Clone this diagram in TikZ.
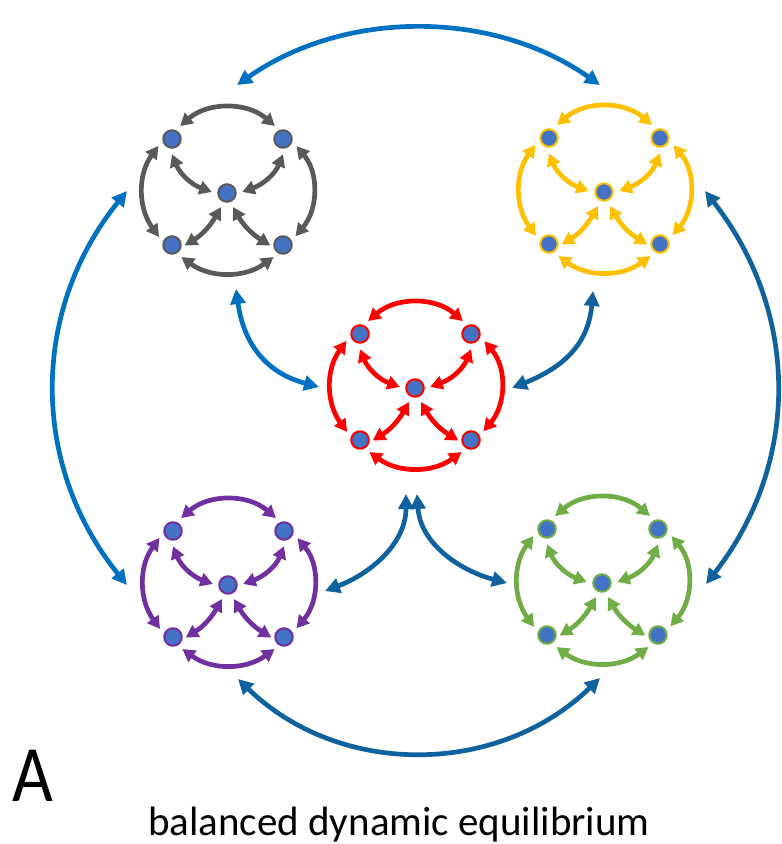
\documentclass[tikz,border=0pt]{standalone}
\usepackage{fontspec}
\setmainfont{Carlito}
\usetikzlibrary{arrows.meta}

\definecolor{dotblue}{HTML}{4472C4}
\definecolor{cgray}{HTML}{595959}
\definecolor{cyellow}{HTML}{FFC000}
\definecolor{cred}{HTML}{FF0000}
\definecolor{cpurple}{HTML}{7030A0}
\definecolor{cgreen}{HTML}{70AD47}
\definecolor{linklight}{HTML}{0070C0}
\definecolor{linkdark}{HTML}{10629E}

\tikzset{
  dot/.style={circle, draw=#1, fill=dotblue, line width=2pt,
    minimum size=17.5pt, inner sep=0pt, outer sep=6.5pt},
  flow/.style={draw=#1, line width=4.7pt,
    {Triangle[length=12.5pt,width=13.5pt]}-{Triangle[length=12.5pt,width=13.5pt]}},
  link/.style={draw=#1, line width=4.7pt,
    {Triangle[length=15pt,width=15pt]}-{Triangle[length=15pt,width=15pt]}},
  % five exchanging states with all their two-way flows
  pics/cluster/.style={code={
    \node[dot=#1] (-c)  at (0,0)     {};
    \node[dot=#1] (-tl) at (-55,54)  {};
    \node[dot=#1] (-tr) at (56,54)   {};
    \node[dot=#1] (-bl) at (-55,-52) {};
    \node[dot=#1] (-br) at (56,-52)  {};
    % outer ring
    \draw[flow=#1] (-tl.58)  to[out=41,in=139]   (-tr.122);
    \draw[flow=#1] (-bl.-52) to[out=-36,in=-144] (-br.-128);
    \draw[flow=#1] (-tl.207) to[out=-126,in=126] (-bl.148);
    \draw[flow=#1] (-tr.-28) to[out=-50,in=50]   (-br.35);
    % spokes to the middle state
    \draw[flow=#1] (-tl.-90) to[out=-68,in=160]  (-c.176);
    \draw[flow=#1] (-tr.-90) to[out=-112,in=20]  (-c.4);
    \draw[flow=#1, shorten >=-3pt] (-c.247) to[out=240,in=32]  (-bl.4);
    \draw[flow=#1, shorten >=-3pt] (-c.293) to[out=-60,in=148] (-br.176);
    % ports for the links between groups
    \coordinate (-n) at (0,107);
    \coordinate (-s) at (0,-96);
    \coordinate (-w) at (-99,0);
    \coordinate (-e) at (99,0);
  }},
}

\begin{document}
\begin{tikzpicture}[x=1pt, y=1pt]
  \useasboundingbox (0,0) rectangle (782,-844);

  \pic (gray)   at (227,-193) {cluster=cgray};
  \pic (yellow) at (604,-192) {cluster=cyellow};
  \pic (red)    at (415,-388) {cluster=cred};
  \pic (purple) at (228,-585) {cluster=cpurple};
  \pic (green)  at (602,-583) {cluster=cgreen};

  % links between the groups
  \draw[link=linklight] ([shift={(10,1)}]gray-n)
    to[out=35,in=145,looseness=0.93] ([shift={(-4,0)}]yellow-n);
  \draw[link=linklight] ([shift={(-1,2)}]gray-w)
    to[out=-129,in=129] ([shift={(-2,0)}]purple-w);
  \draw[link=linkdark] ([shift={(2,1)}]yellow-e)
    to[out=-52,in=52] ([shift={(5,-1)}]green-e);
  \draw[link=linkdark] ([shift={(10,2)}]purple-s)
    to[out=-44,in=-136] ([shift={(-2,1)}]green-s);
  \draw[link=linklight] ([shift={(9,0)}]gray-s)
    to[out=-82,in=165,looseness=1.1] ([shift={(3,1)}]red-w);
  \draw[link=linkdark] ([shift={(-11,-3)}]yellow-s)
    to[out=-95,in=22,looseness=1.1] ([shift={(-2,0)}]red-e);
  \draw[link=linkdark] ([shift={(-9,-10)}]red-s)
    to[out=-90,in=21] ([shift={(-2,-6)}]purple-e);
  \draw[link=linkdark] ([shift={(2,-10)}]red-s)
    to[out=-86,in=165] ([shift={(4,0)}]green-w);

  \node[font=\fontsize{80}{84}\selectfont, anchor=base west, inner sep=0pt,
    xscale=0.88] (panel) at (12,-801.7) {A};
  \node[font=\fontsize{41}{45}\selectfont, anchor=base, inner sep=0pt]
    (caption) at (399,-835) {balanced dynamic equilibrium};
\end{tikzpicture}
\end{document}
